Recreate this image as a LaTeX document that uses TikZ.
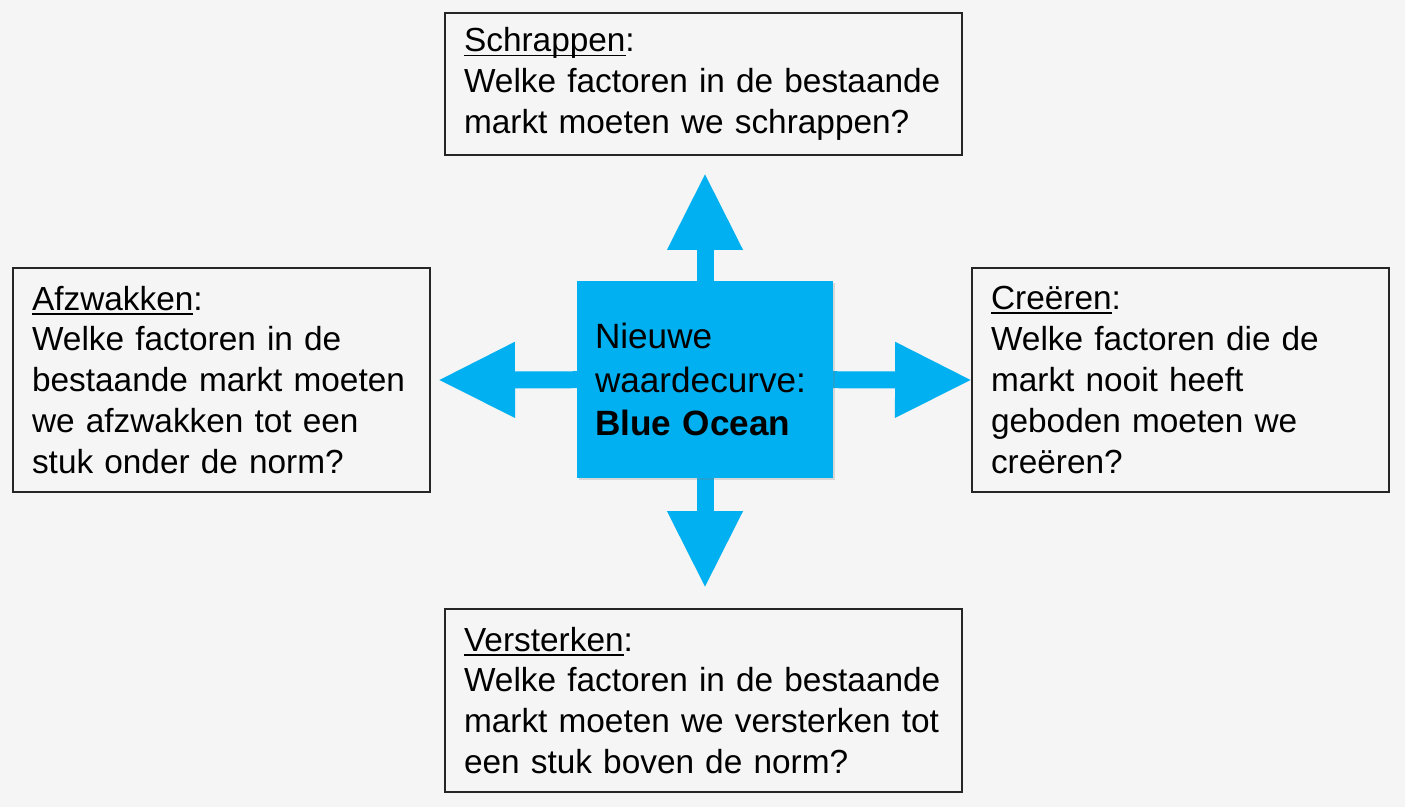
\documentclass[tikz,border=0pt]{standalone}
\usepackage{fontspec}
\setmainfont{Liberation Sans}
\usetikzlibrary{arrows.meta,shadows}

\definecolor{oceanblue}{HTML}{00B0F0}
\definecolor{bggray}{HTML}{F5F5F5}

\pgfdeclarelayer{canvas}
\pgfdeclarelayer{arrows}
\pgfsetlayers{canvas,arrows,main}

% underlined heading word
\newcommand{\headword}[1]{\setbox0\hbox{#1}\rlap{\rule[-2.6pt]{\wd0}{1pt}}\box0}

\tikzset{
  question/.style={draw=black!85, line width=1.1pt, fill=bggray, align=left,
    inner xsep=0.38cm, font=\fontsize{19}{23.3}\selectfont},
  hubbox/.style={fill=oceanblue, align=left, inner xsep=0.36cm,
    text width=4.4cm, minimum width=5.12cm, minimum height=3.94cm,
    font=\fontsize{20}{25}\selectfont,
    drop shadow={opacity=0.25, shadow xshift=1.2pt, shadow yshift=-1.2pt}},
  blockarrow/.style={draw=oceanblue, line width=0.34cm,
    -{Triangle[width=1.42cm,length=1.54cm]}}
}

\begin{document}
\begin{tikzpicture}[x=0.02cm, y=-0.02cm]
    % Canvas
    \begin{pgfonlayer}{canvas}
      \fill[bggray] (0,0) rectangle (1405,807);
    \end{pgfonlayer}

    % Four questions
    \node[question, text width=9.58cm, minimum height=2.84cm] (schrappen) at (703.5,84)
      {\headword{Schrappen}:\\Welke factoren in de bestaande\\markt moeten we schrappen?};
    \node[question, text width=7.58cm, minimum height=4.48cm] (afzwakken) at (221.5,380)
      {\headword{Afzwakken}:\\Welke factoren in de\\bestaande markt moeten\\we afzwakken tot een\\stuk onder de norm?};
    \node[question, text width=7.58cm, minimum height=4.48cm] (creeren) at (1180.5,380)
      {\headword{Creëren}:\\Welke factoren die de\\markt nooit heeft\\geboden moeten we\\creëren?};
    \node[question, text width=9.58cm, minimum height=3.66cm] (versterken) at (703.5,700.5)
      {\headword{Versterken}:\\Welke factoren in de bestaande\\markt moeten we versterken tot\\een stuk boven de norm?};

    % Centre
    \node[hubbox] (hub) at (705,379.5)
      {Nieuwe\\waardecurve:\\\textbf{Blue Ocean}};

    % Arrow ends
    \coordinate (tipN) at (705,173);
    \coordinate (tipW) at (438,380);
    \coordinate (tipE) at (972,380);
    \coordinate (tipS) at (705,588);

    % Arrows, behind the centre box
    \begin{pgfonlayer}{arrows}
      \draw[blockarrow] (hub.center) -- (tipN);
      \draw[blockarrow] (hub.center) -- (tipW);
      \draw[blockarrow] (hub.center) -- (tipE);
      \draw[blockarrow] (hub.center) -- (tipS);
    \end{pgfonlayer}
\end{tikzpicture}
\end{document}
